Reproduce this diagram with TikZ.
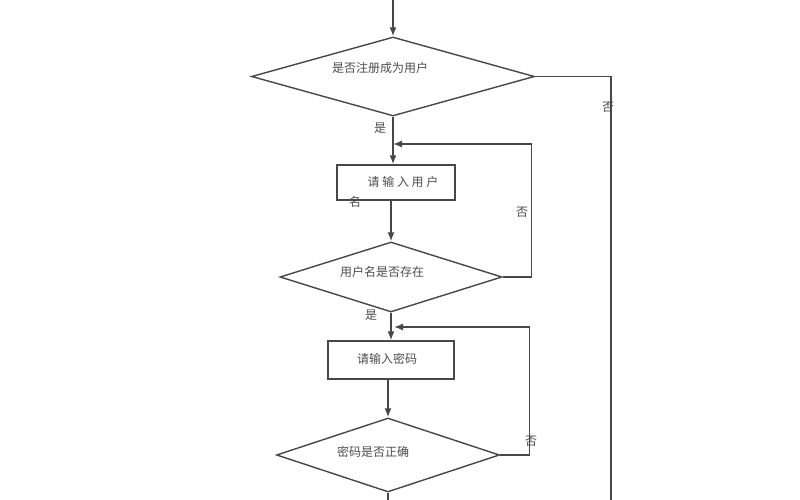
\documentclass[tikz,border=0pt]{standalone}
\usepackage{fontspec}
\setmainfont{Noto Sans CJK SC}
\usepackage{tikz}
\usetikzlibrary{arrows.meta,positioning,shapes.geometric}

\begin{document}
\begin{tikzpicture}[x=1pt,y=-1pt]
	\tikzset{
		line/.style={draw=black!72,line width=1.4pt},
		arrow/.style={line,-{Latex[length=9pt,width=7pt]}},
		decision/.style={diamond,line,inner sep=0pt},
		stepbox/.style={rectangle,line,inner sep=0pt},
		txt/.style={text=black!70,inner sep=0pt,font=\fontsize{12}{14}\selectfont}
	}
	\useasboundingbox (0,0) rectangle (800,500);
	\coordinate (start) at (393,0);
	\node[decision,minimum width=283pt,minimum height=79pt] (reg) at (393,76.5) {};
	\node[txt] (regt) at (380,68) {是否注册成为用户};
	\node[stepbox,minimum width=118pt,minimum height=35pt] (user) at (396,182.5) {};
	\node[txt] (usert) at (403,182) {请 输 入 用 户};
	\node[txt] (usert2) at (355,202) {名};
	\node[decision,minimum width=222pt,minimum height=70pt] (exist) at (391,277) {};
	\node[txt] (existt) at (382,272) {用户名是否存在};
	\node[stepbox,minimum width=126pt,minimum height=38pt] (pwd) at (391,360) {};
	\node[txt] (pwdt) at (387,359) {请输入密码};
	\node[decision,minimum width=223pt,minimum height=74pt] (check) at (388,455) {};
	\node[txt] (checkt) at (373,452) {密码是否正确};
	% joints and loose ends
	\coordinate (j1) at (393,144);
	\coordinate (j2) at (394,327);
	\coordinate (r1) at (611,76.5);
	\coordinate (r2) at (611,500);
	\coordinate (down) at (388,500);
	% yes / no labels
	\node[txt] (yes1) at (380,128) {是};
	\node[txt] (no1) at (608,107) {否};
	\node[txt] (no2) at (522,212) {否};
	\node[txt] (yes2) at (371,315) {是};
	\node[txt] (no3) at (531,441) {否};
	\path
		(start) edge[arrow] (reg.north)
		(reg.south) edge[arrow] (user.north -| reg.south)
		(user.south -| exist.north) edge[arrow] (exist.north)
		(exist.south) edge[arrow] (pwd.north -| exist.south)
		(pwd.south -| check.north) edge[arrow] (check.north)
		(check.south) edge[line] (down);
	\draw[line] (reg.east) -- (r1) -- (r2);
	\draw[arrow] (exist.east) -- ++(29,0) |- (j1);
	\draw[arrow] (check.east) -- ++(29,0) |- (j2);
\end{tikzpicture}
\end{document}
